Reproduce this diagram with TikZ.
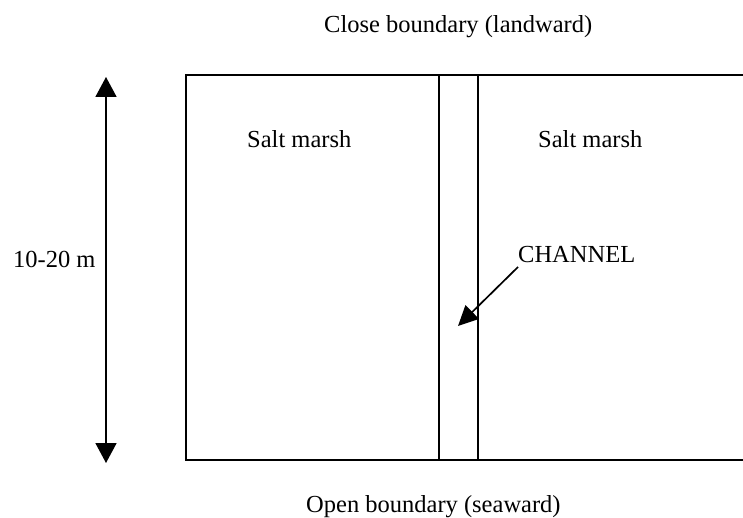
\documentclass[tikz,border=0pt]{standalone}
\usepackage{fontspec}
\setmainfont{Liberation Serif}
\usetikzlibrary{arrows.meta}
\begin{document}
\begin{tikzpicture}[x=1pt,y=-1pt,
  wall/.style={line width=1.7pt},
  lbl/.style={anchor=base west,inner sep=0pt,font=\fontsize{24.5}{29}\selectfont},
  dimarrow/.style={line width=1.7pt,-{Triangle[length=20pt,width=21pt]}},
  ptr/.style={line width=1.7pt,-{Triangle[length=20pt,width=19pt]}}]
  \useasboundingbox[fill=white] (0,0) rectangle (743,518);

  % marsh strip: left edge, top and bottom boundaries, open to the right
  \coordinate (tr) at (743,75);
  \coordinate (tl) at (186,75);
  \coordinate (bl) at (186,460);
  \coordinate (br) at (743,460);
  \draw[wall] (tr) -- (tl) -- (bl) -- (br);

  % tidal channel banks
  \coordinate (c1t) at (439,75);
  \coordinate (c1b) at (439,460);
  \coordinate (c2t) at (478,75);
  \coordinate (c2b) at (478,460);
  \draw[wall] (c1t) -- (c1b);
  \draw[wall] (c2t) -- (c2b);

  % labels
  \node[lbl] (close) at (324,33) {Close boundary (landward)};
  \node[lbl] (open) at (306,512) {Open boundary (seaward)};
  \node[lbl] (smL) at (247,148) {Salt marsh};
  \node[lbl] (smR) at (538,148) {Salt marsh};
  \node[lbl] (chan) at (518,262) {CHANNEL};
  \node[lbl] (width) at (13,267) {10-20 m};

  % width dimension arrow
  \coordinate (dmid) at (106,270);
  \coordinate (dtop) at (106,77);
  \coordinate (dbot) at (106,463);
  \draw[dimarrow] (dmid) -- (dtop);
  \draw[dimarrow] (dmid) -- (dbot);

  % pointer from the channel label into the channel
  \coordinate (pstart) at (518,267);
  \coordinate (ptip) at (458,326);
  \draw[ptr] (pstart) -- (ptip);
\end{tikzpicture}
\end{document}
